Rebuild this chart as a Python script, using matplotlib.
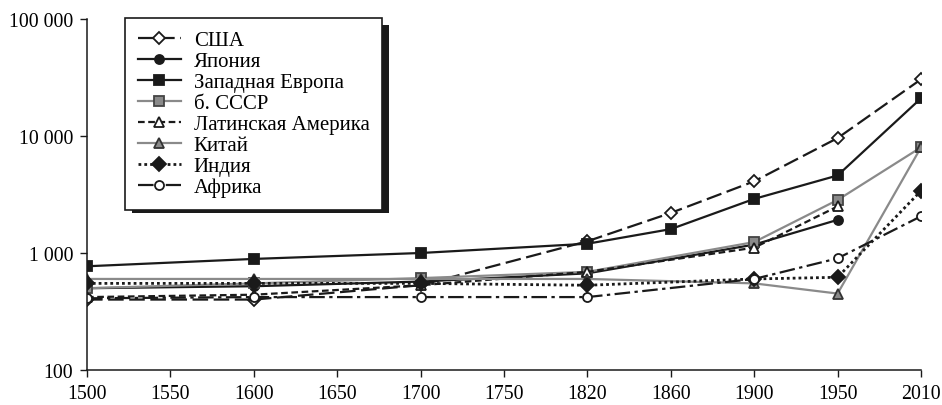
import numpy as np
import matplotlib
matplotlib.use('Agg')
import matplotlib.pyplot as plt
from matplotlib.patches import Rectangle
from matplotlib.ticker import FixedLocator, FixedFormatter, NullLocator

plt.rcParams['font.family'] = ['Liberation Serif', 'DejaVu Serif']

# категории оси X (равномерно расставленные подписи)
tick_years = ['1500', '1550', '1600', '1650', '1700', '1750', '1820', '1860', '1900', '1950', '2010']
# годы, для которых есть данные
point_years = ['1500', '1600', '1700', '1820', '1860', '1900', '1950', '2010']

usa = [400, 400, 530, 1260, 2200, 4100, 9600, 30500]
japan = [500, 520, 570, 670, None, 1180, 1920, None]
west_europe = [770, 890, 1000, 1200, 1600, 2900, 4600, 21000]
ussr = [500, 550, 610, 690, None, 1240, 2840, 8000]
latam = [420, 440, 530, 690, None, 1110, 2500, None]
china = [600, 600, 600, 600, None, 550, 450, 8000]
india = [550, 550, 550, 530, None, 600, 620, 3400]
africa = [410, 420, 420, 420, None, 600, 900, 2060]

y_ticks = [100, 1000, 10000, 100000]
y_labels = ['100', '1 000', '10 000', '100 000']

BLACK = '#1a1a1a'
GRAY = '#8a8a8a'

series = [
    ('США', usa, dict(color=BLACK, dashes=(7, 2.5), marker='D', mfc='white', mec=BLACK, ms=6.5)),
    ('Япония', japan, dict(color=BLACK, ls='-', marker='o', mfc=BLACK, mec=BLACK, ms=6.5)),
    ('Западная Европа', west_europe, dict(color=BLACK, ls='-', marker='s', mfc=BLACK, mec=BLACK, ms=6.5)),
    ('б. СССР', ussr, dict(color=GRAY, ls='-', marker='s', mfc=GRAY, mec='#444444', ms=6.5)),
    ('Латинская Америка', latam, dict(color=BLACK, dashes=(3, 1.6), marker='^', mfc='white', mec=BLACK, ms=7)),
    ('Китай', china, dict(color=GRAY, ls='-', marker='^', mfc=GRAY, mec='#333333', ms=7)),
    ('Индия', india, dict(color=BLACK, dashes=(1, 1.1), marker='D', mfc=BLACK, mec=BLACK, ms=7, lw=2)),
    ('Африка', africa, dict(color=BLACK, dashes=(7, 2, 1.5, 2), marker='o', mfc='white', mec=BLACK, ms=6.5)),
]

fig = plt.figure(figsize=(9.42, 4.06), dpi=100)
ax = fig.add_axes([87 / 942, 35 / 406, (921 - 87) / 942, (371 - 20) / 406])

for name, vals, style in series:
    xs = [tick_years.index(y) for y, v in zip(point_years, vals) if v is not None]
    ys = [v for v in vals if v is not None]
    kw = dict(lw=1.6, mew=1.3)
    kw.update(style)
    ax.plot(xs, ys, label=name, **kw)

ax.set_yscale('log')
ax.set_ylim(100, 100000)
ax.set_xlim(0, len(tick_years) - 1)
ax.yaxis.set_major_locator(FixedLocator(y_ticks))
ax.yaxis.set_major_formatter(FixedFormatter(y_labels))
ax.yaxis.set_minor_locator(NullLocator())
ax.set_xticks(range(len(tick_years)))
ax.set_xticklabels(tick_years)
ax.tick_params(labelsize=14.3, length=5, width=1, color=BLACK, direction='out')
ax.tick_params(axis='y', pad=5)
ax.tick_params(axis='x', pad=5)
for s in ['top', 'right']:
    ax.spines[s].set_visible(False)
for s in ['left', 'bottom']:
    ax.spines[s].set_color(BLACK)
    ax.spines[s].set_linewidth(1.1)

leg = ax.legend(loc='upper left', bbox_to_anchor=(125 / 942, 1 - 19 / 406), bbox_transform=fig.transFigure,
                fontsize=15, frameon=True, fancybox=False, framealpha=1, facecolor='white',
                handlelength=2.1, labelspacing=0.07, borderpad=0.6, handletextpad=0.6, borderaxespad=0)
leg.get_frame().set_edgecolor(BLACK)
leg.get_frame().set_linewidth(1.2)
leg.set_zorder(6)

# чёрная тень у рамки легенды
fig.canvas.draw()
bb = leg.get_window_extent()
inv = ax.transAxes.inverted()
(x0, y0), (x1, y1) = inv.transform([[bb.x0 + 7, bb.y0 - 3], [bb.x1 + 7, bb.y1 - 7]])
ax.add_patch(Rectangle((x0, y0), x1 - x0, y1 - y0, transform=ax.transAxes,
                       facecolor=BLACK, edgecolor='none', zorder=5.5, clip_on=False))

fig.savefig('out.png', dpi=100)
